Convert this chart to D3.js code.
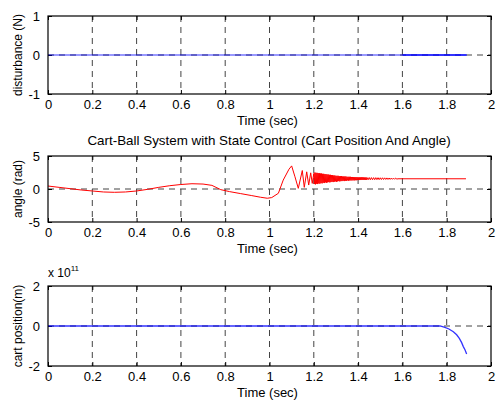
<!DOCTYPE html>
<html>
<head>
<meta charset="utf-8">
<script src="https://cdn.jsdelivr.net/npm/d3@7"></script>
<style>
  html, body { margin: 0; padding: 0; background: #fff; }
  svg { display: block; font-family: "Liberation Sans", Arial, Helvetica, sans-serif; }
</style>
</head>
<body>
<svg id="chart" width="497" height="401"></svg>
<script>
// ---------- data ----------
const xTicks = [0, 0.2, 0.4, 0.6, 0.8, 1, 1.2, 1.4, 1.6, 1.8, 2];
const xTickLabels = ["0", "0.2", "0.4", "0.6", "0.8", "1", "1.2", "1.4", "1.6", "1.8", "2"];

// panel 1: disturbance
const distTicks = [-1, 0, 1];
const distTickLabels = ["-1", "0", "1"];
const distT = [0, 1.6];
const distV = [0, 0];
const distDenseT = [1.6, 1.89];
const distDenseV = [0, 0];

// panel 2: angle  ([time, angle] pairs)
const angleTicks = [-5, 0, 5];
const angleTickLabels = ["-5", "0", "5"];
const angleSmooth = [
  [0, 0.45], [0.05, 0.25], [0.1, 0.05], [0.15, -0.15], [0.2, -0.3], [0.25, -0.45], [0.3, -0.5], [0.35, -0.45],
  [0.4, -0.3], [0.45, -0.05], [0.5, 0.25], [0.55, 0.5], [0.6, 0.68], [0.65, 0.8], [0.7, 0.75], [0.74, 0.55],
  [0.78, -0.1], [0.82, -0.4], [0.87, -0.7], [0.92, -1.0], [0.96, -1.25], [0.99, -1.4], [1.01, -1.3], [1.04, -0.65],
  [1.062, 1.35], [1.088, 3.0], [1.1, 3.5], [1.115, 1.85], [1.13, 0.1],
  [1.148, 2.8], [1.157, 0.25], [1.168, 2.6], [1.177, 0.6], [1.186, 2.45], [1.193, 0.85], [1.2, 2.35]
];
const angleDense = [
  [1.2025, 0.75], [1.205, 2.5], [1.2075, 0.7], [1.21, 2.45], [1.2125, 0.8], [1.215, 2.45], [1.2175, 0.75], [1.22, 2.4],
  [1.2225, 0.85], [1.225, 2.4], [1.2275, 0.8], [1.23, 2.35], [1.2325, 0.9], [1.235, 2.35], [1.2375, 0.85], [1.24, 2.3],
  [1.2425, 0.95], [1.245, 2.3], [1.2475, 0.9], [1.25, 2.25], [1.2525, 1.0], [1.255, 2.25], [1.2575, 0.95], [1.26, 2.2],
  [1.2625, 1.0], [1.265, 2.2], [1.2675, 1.05], [1.27, 2.15], [1.2725, 1.0], [1.275, 2.15], [1.2775, 1.05], [1.28, 2.1],
  [1.2825, 1.1], [1.285, 2.1], [1.2875, 1.05], [1.29, 2.05], [1.2925, 1.1], [1.295, 2.05], [1.2975, 1.15], [1.3, 2.0],
  [1.3025, 1.1], [1.305, 2.0], [1.3075, 1.15], [1.31, 2.0], [1.3125, 1.2], [1.315, 1.95], [1.3175, 1.15], [1.32, 1.95],
  [1.3225, 1.2], [1.325, 1.95], [1.3275, 1.2], [1.33, 1.9], [1.3325, 1.25], [1.335, 1.9], [1.3375, 1.2], [1.34, 1.9],
  [1.3425, 1.25], [1.345, 1.9], [1.3475, 1.25], [1.35, 1.85], [1.3525, 1.3], [1.355, 1.85], [1.3575, 1.25], [1.36, 1.85],
  [1.3625, 1.3], [1.365, 1.85], [1.3675, 1.3], [1.37, 1.82], [1.3725, 1.3], [1.375, 1.82], [1.3775, 1.32], [1.38, 1.8],
  [1.3825, 1.3], [1.385, 1.8], [1.3875, 1.33], [1.39, 1.8], [1.3925, 1.33], [1.395, 1.8], [1.3975, 1.35], [1.4, 1.78],
  [1.4025, 1.35], [1.405, 1.78], [1.4075, 1.36], [1.41, 1.77], [1.4125, 1.36], [1.415, 1.77], [1.4175, 1.37], [1.42, 1.76],
  [1.4225, 1.37], [1.425, 1.76], [1.4275, 1.38], [1.43, 1.75], [1.4325, 1.38], [1.435, 1.75], [1.4375, 1.39], [1.44, 1.74],
  [1.445, 1.39], [1.45, 1.74], [1.455, 1.4], [1.46, 1.73], [1.465, 1.4], [1.47, 1.72], [1.475, 1.41], [1.48, 1.72],
  [1.485, 1.42], [1.49, 1.71], [1.495, 1.42], [1.5, 1.7], [1.505, 1.43], [1.51, 1.7], [1.515, 1.44], [1.52, 1.69],
  [1.525, 1.45], [1.53, 1.68], [1.535, 1.45], [1.54, 1.67], [1.545, 1.46], [1.55, 1.66], [1.555, 1.47], [1.56, 1.65],
  [1.565, 1.48], [1.57, 1.64], [1.575, 1.5]
];
const angleTail = [[1.58, 1.55], [1.887, 1.55]];

// panel 3: cart position
const cartTicks = [-2e11, 0, 2e11];
const cartTickLabels = ["-2", "0", "2"];
const cartT = [0, 1.77, 1.792, 1.81, 1.83, 1.845, 1.857, 1.867, 1.875, 1.883, 1.89];
const cartV = [0, 0, -0.07e11, -0.15e11, -0.29e11, -0.44e11, -0.62e11, -0.82e11, -1.03e11, -1.2e11, -1.4e11];

// ---------- drawing ----------
const svg = d3.select("#chart");
const left = 48, right = 491;
const x = d3.scaleLinear().domain([0, 2]).range([left, right]);
const anglePts = angleSmooth.concat(angleDense, angleTail);

const panels = [
  { top: 16, bottom: 94, domain: [-1, 1], ticks: distTicks, labels: distTickLabels, ylabel: "disturbance (N)",
    series: [{ pts: distT.map((t, i) => [t, distV[i]]), color: "#0000ff", w: 1 },
             { pts: distDenseT.map((t, i) => [t, distDenseV[i]]), color: "#0000ff", w: 2 }] },
  { top: 156, bottom: 222, domain: [-5, 5], ticks: angleTicks, labels: angleTickLabels, ylabel: "angle (rad)",
    title: "Cart-Ball System with State Control (Cart Position And Angle)",
    series: [{ pts: anglePts, color: "#ff0000", w: 1 }] },
  { top: 286, bottom: 366, domain: [-2e11, 2e11], ticks: cartTicks, labels: cartTickLabels, ylabel: "cart position(m)",
    exponent: true,
    series: [{ pts: cartT.map((t, i) => [t, cartV[i]]), color: "#0000ff", w: 1.3 }] }
];

panels.forEach(p => {
  const y = d3.scaleLinear().domain(p.domain).range([p.bottom, p.top]);
  const g = svg.append("g");

  // grid
  g.append("g").selectAll("line").data(xTicks.slice(1, -1)).join("line")
    .attr("x1", d => x(d)).attr("x2", d => x(d))
    .attr("y1", p.top).attr("y2", p.bottom)
    .attr("stroke", "#444").attr("stroke-width", 1).attr("stroke-dasharray", "6,5");
  g.append("g").selectAll("line").data(p.ticks.slice(1, -1)).join("line")
    .attr("x1", left).attr("x2", right)
    .attr("y1", d => y(d)).attr("y2", d => y(d))
    .attr("stroke", "#444").attr("stroke-width", 1).attr("stroke-dasharray", "6,5");

  // axes with inward ticks
  const ax = (gen, tx, ty) => g.append("g").attr("transform", `translate(${tx},${ty})`).call(gen)
    .call(s => s.select(".domain").remove())
    .call(s => s.selectAll(".tick line").attr("stroke", "#000"));
  ax(d3.axisBottom(x).tickValues(xTicks).tickSize(-4).tickPadding(6)
      .tickFormat((d, i) => xTickLabels[i]), 0, p.bottom);
  ax(d3.axisTop(x).tickValues(xTicks).tickSize(-4).tickFormat(""), 0, p.top);
  ax(d3.axisLeft(y).tickValues(p.ticks).tickSize(-4).tickPadding(8)
      .tickFormat((d, i) => p.labels[i]), left, 0);
  ax(d3.axisRight(y).tickValues(p.ticks).tickSize(-4).tickFormat(""), right, 0);
  g.selectAll(".tick text").attr("font-size", 13).attr("fill", "#000")
    .attr("font-family", '"Liberation Sans", Arial, sans-serif');

  // data
  const line = d3.line().x(d => x(d[0])).y(d => y(d[1]));
  p.series.forEach(s => {
    g.append("path").datum(s.pts)
      .attr("d", line).attr("fill", "none")
      .attr("stroke", s.color).attr("stroke-width", s.w)
      .attr("stroke-opacity", s.color === "#0000ff" ? 0.8 : 1);
  });

  // frame
  g.append("rect").attr("x", left).attr("y", p.top)
    .attr("width", right - left).attr("height", p.bottom - p.top)
    .attr("fill", "none").attr("stroke", "#000").attr("stroke-width", 1.2);

  // labels
  g.append("text").attr("x", (left + right) / 2 - 2).attr("y", p.bottom + 31)
    .attr("text-anchor", "middle").attr("font-size", 13).text("Time (sec)");
  g.append("text").attr("transform", `translate(22,${(p.top + p.bottom) / 2}) rotate(-90)`)
    .attr("text-anchor", "middle").attr("font-size", 12).text(p.ylabel);
  if (p.title) {
    g.append("text").attr("x", (left + right) / 2 - 0.5).attr("y", p.top - 11)
      .attr("text-anchor", "middle").attr("font-size", 13.4).text(p.title);
  }
  if (p.exponent) {
    const t = g.append("text").attr("x", 48).attr("y", p.top - 9).attr("font-size", 12);
    t.append("tspan").text("x 10");
    t.append("tspan").attr("dy", -6).attr("font-size", 8).text("11");
  }
});
</script>
</body>
</html>
